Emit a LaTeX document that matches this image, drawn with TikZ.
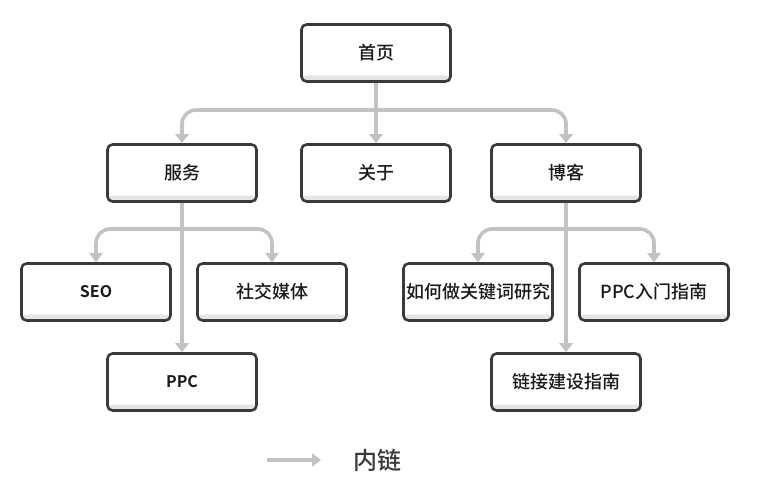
\documentclass[tikz,border=0pt]{standalone}
\usepackage{fontspec}
\setmainfont{Noto Sans CJK SC Medium}[BoldFont=Noto Sans CJK SC Bold]
\usetikzlibrary{arrows.meta}
\definecolor{bordc}{HTML}{3A3A3A}
\definecolor{linec}{HTML}{C2C2C2}
\definecolor{stripc}{HTML}{E4E4E4}
\definecolor{textc}{HTML}{1A1A1A}
\tikzset{
  box/.style={draw=bordc, line width=2.6pt, rounded corners=5pt, fill=white, text=textc,
    minimum width=149pt, minimum height=57pt, inner sep=0pt, font=\fontsize{18}{21}\selectfont,
    path picture={\fill[stripc] ([yshift=6pt]path picture bounding box.south west) rectangle (path picture bounding box.south east);}},
  link/.style={draw=linec, line width=3.6pt, rounded corners=14pt,
    -{Triangle[width=13pt,length=9pt]}},
}
\begin{document}
\begin{tikzpicture}[x=1pt,y=-1pt]
\useasboundingbox (0,0) rectangle (768,500);
\fill[white] (0,0) rectangle (768,500);
\node[box] (home) at (376,53) {首页};
\node[box] (serv) at (182,173) {服务};
\node[box] (about) at (376,173) {关于};
\node[box] (blog) at (566,173) {博客};
\node[box, font=\fontsize{16}{19}\selectfont] (seo) at (96,292) {\textbf{SEO}};
\node[box] (social) at (272,292) {社交媒体};
\node[box, font=\fontsize{16}{19}\selectfont] (ppc) at (182,382) {\textbf{PPC}};
\node[box] (kw) at (478,292) {如何做关键词研究};
\node[box] (ppcg) at (654,292) {PPC入门指南};
\node[box] (lb) at (566,382) {链接建设指南};
\coordinate (j1) at (376,110);
\coordinate (j2) at (182,229);
\coordinate (j3) at (566,229);
\coordinate (la) at (267,460);
\coordinate (lbb) at (321,460);
\node[anchor=west, font=\fontsize{24}{27}\selectfont, text=bordc] (leg) at (350,460) {内链};
\draw[link] (home.south) -- (about.north);
\draw[link] (j1) -| (serv.north);
\draw[link] (j1) -| (blog.north);
\draw[link] (serv.south) -- (ppc.north);
\draw[link] (j2) -| (seo.north);
\draw[link] (j2) -| (social.north);
\draw[link] (blog.south) -- (lb.north);
\draw[link] (j3) -| (kw.north);
\draw[link] (j3) -| (ppcg.north);
\draw[link] (la) -- (lbb);
\end{tikzpicture}
\end{document}
